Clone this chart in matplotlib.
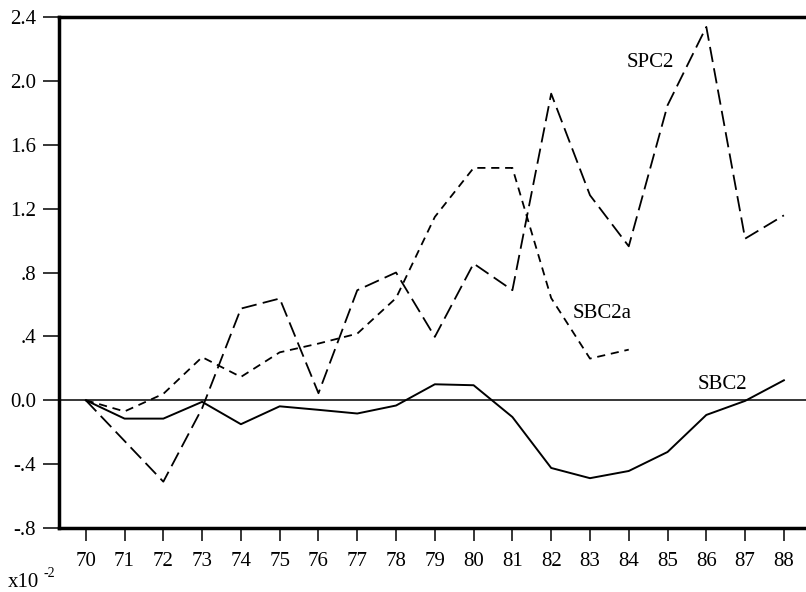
import matplotlib.pyplot as plt

plt.rcParams['font.family'] = ['Liberation Serif', 'DejaVu Serif']

years = list(range(70, 89))

# SPC2 (long dashes), 1970-1988
spc2 = [0.0, -0.255, -0.51, -0.05, 0.574, 0.637, 0.044, 0.689, 0.80, 0.397,
        0.856, 0.689, 1.92, 1.284, 0.964, 1.847, 2.338, 1.012, 1.158]

# SBC2a (short dashes), 1970-1984
sbc2a_years = list(range(70, 85))
sbc2a = [0.0, -0.07, 0.04, 0.27, 0.146, 0.30, 0.355, 0.417, 0.64, 1.148,
         1.455, 1.455, 0.64, 0.261, 0.317]

# SBC2 (solid), 1970-1988
sbc2 = [0.0, -0.115, -0.115, -0.01, -0.15, -0.038, -0.06, -0.083, -0.033, 0.10,
        0.094, -0.105, -0.424, -0.488, -0.443, -0.324, -0.092, -0.004, 0.125]

yticks = [-0.8, -0.4, 0.0, 0.4, 0.8, 1.2, 1.6, 2.0, 2.4]
ytick_labels = ['-.8', '-.4', '0.0', '.4', '.8', '1.2', '1.6', '2.0', '2.4']

fig = plt.figure(figsize=(8.06, 5.92), dpi=100)
ax = fig.add_axes([59 / 806, 1 - 528 / 592, 1 - 59 / 806, (528 - 17) / 592])

ax.axhline(0, color='black', linewidth=1.1, zorder=1)
ax.plot(years, spc2, color='black', linewidth=1.3, dashes=(8.5, 3.5))
ax.plot(sbc2a_years, sbc2a, color='black', linewidth=1.3, dashes=(4.5, 3.2))
ax.plot(years, sbc2, color='black', linewidth=1.4)

ax.text(83.95, 2.116, 'SPC2', fontsize=15, va='center', ha='left')
ax.text(82.56, 0.545, 'SBC2a', fontsize=15, va='center', ha='left')
ax.text(85.78, 0.10, 'SBC2', fontsize=15, va='center', ha='left')

ax.set_xlim(69.31, 88.57)
ax.set_ylim(-0.8, 2.4)
ax.set_xticks(years)
ax.set_xticklabels([str(y) for y in years])
ax.set_yticks(yticks)
ax.set_yticklabels(ytick_labels)

ax.spines['right'].set_visible(False)
for side in ['left', 'bottom', 'top']:
    ax.spines[side].set_linewidth(2.5)

ax.tick_params(axis='y', direction='out', length=11.5, width=1.1, pad=5, labelsize=15)
ax.tick_params(axis='x', direction='out', length=9.4, width=1.1, pad=8, labelsize=15)

# scale factor under the y axis
fig.text(8 / 806, 5 / 592, 'x10', fontsize=15, ha='left', va='baseline')
fig.text(44 / 806, 15 / 592, '-2', fontsize=10, ha='left', va='baseline')

fig.savefig('out.png', dpi=100)
